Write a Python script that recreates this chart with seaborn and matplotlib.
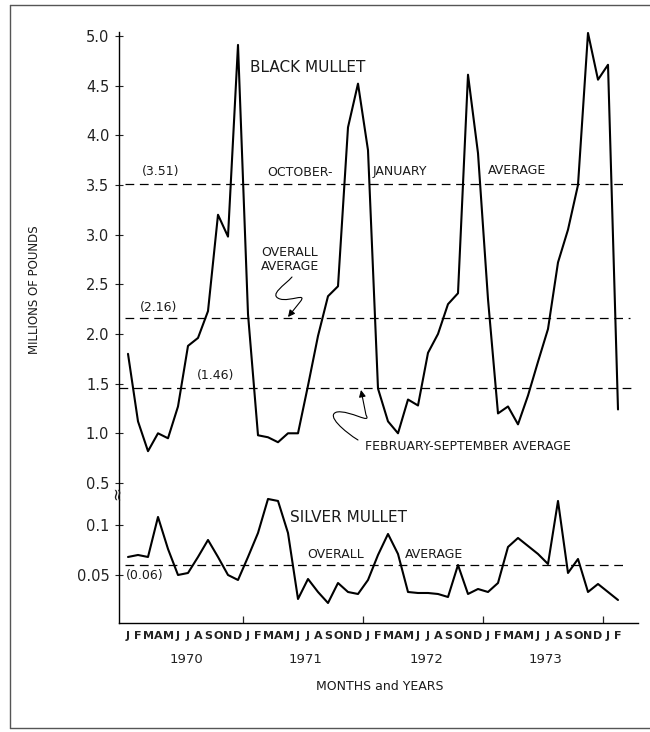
import numpy as np
import pandas as pd
import matplotlib
matplotlib.use("Agg")
import matplotlib.pyplot as plt
import seaborn as sns
from matplotlib.path import Path
from matplotlib.patches import FancyArrowPatch
from matplotlib.lines import Line2D

# ---------------- data ----------------
month_letters = list("JFMAMJJASOND") * 4 + ["J", "F"]
years = ["1970", "1971", "1972", "1973"]

black_mullet = [1.80, 1.12, 0.82, 1.00, 0.95, 1.27, 1.88, 1.96, 2.23, 3.20, 2.98, 4.91,
                2.20, 0.98, 0.96, 0.91, 1.00, 1.00, 1.48, 1.98, 2.38, 2.48, 4.08, 4.52,
                3.85, 1.45, 1.12, 1.00, 1.34, 1.28, 1.81, 2.00, 2.30, 2.41, 4.61, 3.82,
                2.35, 1.20, 1.27, 1.09, 1.38, 1.72, 2.05, 2.72, 3.05, 3.50, 5.03, 4.56,
                4.71, 1.24]
silver_mullet = [0.068, 0.070, 0.068, 0.108, 0.076, 0.050, 0.052, 0.068, 0.085, 0.068, 0.050, 0.045,
                 0.068, 0.092, 0.126, 0.124, 0.092, 0.026, 0.046, 0.033, 0.022, 0.042, 0.033, 0.031,
                 0.045, 0.070, 0.091, 0.071, 0.033, 0.032, 0.032, 0.031, 0.028, 0.060, 0.031, 0.036,
                 0.033, 0.042, 0.078, 0.087, 0.079, 0.071, 0.061, 0.124, 0.052, 0.066, 0.033, 0.041,
                 0.033, 0.025]

black_oct_jan_avg = 3.51
black_overall_avg = 2.16
black_feb_sep_avg = 1.46
silver_overall_avg = 0.06

y_ticks = [0.05, 0.1, 0.5, 1.0, 1.5, 2.0, 2.5, 3.0, 3.5, 4.0, 4.5, 5.0]
y_tick_labels = ["0.05", "0.1", "0.5", "1.0", "1.5", "2.0", "2.5", "3.0", "3.5", "4.0", "4.5", "5.0"]

df = pd.DataFrame({"month": np.arange(len(black_mullet)),
                   "black": black_mullet, "silver": silver_mullet})

# ---------------- style ----------------
sns.set_theme(style="ticks")
plt.rcParams['font.family'] = ['DejaVu Sans']

W, H = 650, 732
fig = plt.figure(figsize=(W / 100, H / 100), dpi=100)
fig.patch.set_facecolor("white")
ax = fig.add_axes([119 / W, 1 - 623 / H, (638 - 119) / W, (623 - 32) / H])
ax.set_facecolor("white")

# broken y-axis: piecewise linear scale (silver part below, black part above)
knots_v = [-1.0, 0.13, 0.5, 10.0]
knots_u = [-1002.0, 128.0, 140.0, 140.0 + 9.5 * 99.3]
def fwd(v):
    return np.interp(np.asarray(v, dtype=float), knots_v, knots_u)
def inv(u):
    return np.interp(np.asarray(u, dtype=float), knots_u, knots_v)
ax.set_yscale("function", functions=(fwd, inv))

sns.lineplot(data=df, x="month", y="black", color="black", lw=1.5, ax=ax)
sns.lineplot(data=df, x="month", y="silver", color="black", lw=1.5, ax=ax)

dash = (0, (7, 4.5))
ax.hlines(black_oct_jan_avg, -0.3, 49.9, colors="black", lw=0.9, linestyles=[dash])
ax.hlines(black_overall_avg, -0.3, 50.2, colors="black", lw=0.9, linestyles=[dash])
ax.hlines(black_feb_sep_avg, -0.9, 50.5, colors="black", lw=0.9, linestyles=[dash])
ax.hlines(silver_overall_avg, -0.3, 50.0, colors="black", lw=0.9, linestyles=[dash])

ax.set_xlim(-0.9, 51)
ax.set_ylim(0.002, 5.04)

ax.set_yticks(y_ticks)
ax.set_yticklabels(y_tick_labels)
ax.yaxis.set_minor_locator(matplotlib.ticker.NullLocator())
ax.tick_params(axis="y", direction="inout", length=6, width=0.8, pad=4,
               labelsize=10.5, colors="#222222")

# x: year-boundary ticks and month letters
ax.set_xticks([11.5, 23.5, 35.5, 47.5])
ax.set_xticklabels([])
ax.tick_params(axis="x", which="major", direction="in", length=5, width=0.9)
ax.set_xticks(np.arange(len(month_letters)), minor=True)
ax.set_xticklabels(month_letters, minor=True, fontsize=8, fontweight="bold")
ax.tick_params(axis="x", which="minor", length=0, pad=6, colors="#222222")
ax.set_xlabel("")
ax.set_ylabel("")

for i, yr in enumerate(years):
    ax.text(5.8 + 12 * i, -0.061, yr, transform=ax.get_xaxis_transform(),
            ha="center", va="center", fontsize=9.5, color="#222222")

for s in ["top", "right"]:
    ax.spines[s].set_visible(False)
for s in ["left", "bottom"]:
    ax.spines[s].set_color("black")
    ax.spines[s].set_linewidth(1.0)

# ---------------- annotations (figure pixel positions) ----------------
def ftext(x, y, s, **kw):
    kw.setdefault("color", "#1a1a1a")
    fig.text(x / W, 1 - y / H, s, **kw)

ftext(250, 67, "BLACK MULLET", fontsize=11, ha="left", va="center")
ftext(142, 172, "(3.51)", fontsize=9, ha="left", va="center")
ftext(267, 172, "OCTOBER-", fontsize=9, ha="left", va="center")
ftext(373, 171, "JANUARY", fontsize=9, ha="left", va="center")
ftext(488, 171, "AVERAGE", fontsize=9, ha="left", va="center")
ftext(290, 253, "OVERALL", fontsize=9, ha="center", va="center")
ftext(290, 266, "AVERAGE", fontsize=9, ha="center", va="center")
ftext(140, 308, "(2.16)", fontsize=9, ha="left", va="center")
ftext(197, 376, "(1.46)", fontsize=9, ha="left", va="center")
ftext(365, 447, "FEBRUARY-SEPTEMBER AVERAGE", fontsize=9, ha="left", va="center")
ftext(290, 517, "SILVER MULLET", fontsize=11, ha="left", va="center")
ftext(307, 555, "OVERALL", fontsize=9, ha="left", va="center")
ftext(405, 555, "AVERAGE", fontsize=9, ha="left", va="center")
ftext(126, 576, "(0.06)", fontsize=9, ha="left", va="center")
ftext(380, 687, "MONTHS and YEARS", fontsize=9, ha="center", va="center")
ftext(35, 290, "MILLIONS OF POUNDS", fontsize=8.5, ha="center", va="center", rotation=90)
ftext(117, 493, "\u2248", fontsize=12, ha="center", va="center", rotation=90)

def squiggle(pts, codes):
    verts = [(x / W, 1 - y / H) for x, y in pts]
    p = FancyArrowPatch(path=Path(verts, codes), arrowstyle="-|>,head_length=4,head_width=2",
                        color="black", lw=0.8, transform=fig.transFigure, shrinkA=0, shrinkB=0)
    fig.add_artist(p)

C4, M, L = Path.CURVE4, Path.MOVETO, Path.LINETO
squiggle([(292, 277), (285, 285), (268, 295), (280, 299),
          (290, 302), (308, 292), (300, 302), (288, 317)],
         [M, C4, C4, C4, C4, C4, C4, L])
squiggle([(358, 440), (345, 432), (325, 415), (337, 412),
          (350, 410), (372, 425), (366, 415), (361, 390)],
         [M, C4, C4, C4, C4, C4, C4, L])

# outer frame of the scanned figure
for xs, ys in [((10, 650), (5, 5)), ((10, 10), (5, 728)), ((10, 650), (728, 728))]:
    fig.add_artist(Line2D([x / W for x in xs], [1 - y / H for y in ys],
                          transform=fig.transFigure, color="#555555", lw=1.0))

fig.savefig("out.png", dpi=100)
